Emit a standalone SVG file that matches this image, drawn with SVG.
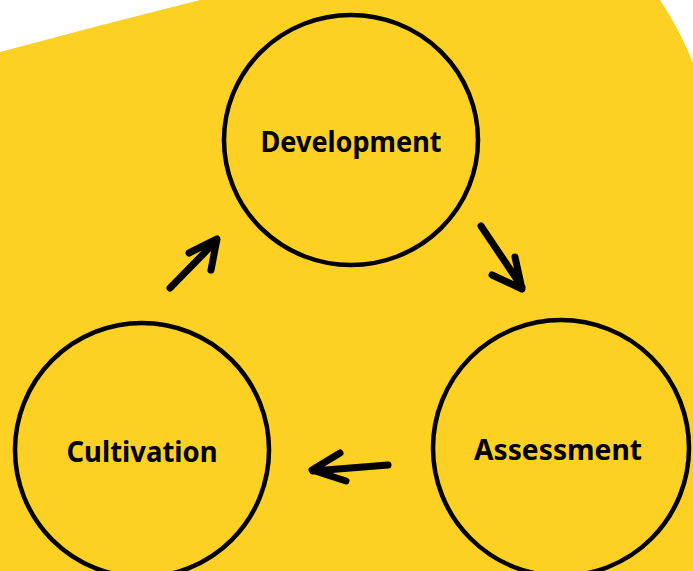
<svg xmlns="http://www.w3.org/2000/svg" width="693" height="571" viewBox="0 0 693 571">
<style>
.node{fill:none;stroke:#000;stroke-width:4.5}
.lbl{font-family:"Noto Sans","Open Sans",sans-serif;font-weight:700;font-size:29px;fill:#000;text-anchor:middle}
.arr{fill:none;stroke:#000;stroke-width:7;stroke-linecap:round;stroke-linejoin:round}
</style>
<rect width="693" height="571" fill="#fff"/>
<path d="M0,52 Q100,25 200,0 L660,0 Q680,30 693,63 L693,571 L0,571 Z" fill="#FDD024"/>
<g id="development">
<ellipse class="node" cx="351" cy="140" rx="127" ry="125"/>
<text class="lbl" x="351" y="152" textLength="181" lengthAdjust="spacingAndGlyphs">Development</text>
</g>
<g id="assessment">
<circle class="node" cx="561" cy="448" r="128"/>
<text class="lbl" x="558" y="460" textLength="168" lengthAdjust="spacingAndGlyphs">Assessment</text>
</g>
<g id="cultivation">
<circle class="node" cx="142" cy="450" r="127"/>
<text class="lbl" x="142" y="462" textLength="151" lengthAdjust="spacingAndGlyphs">Cultivation</text>
</g>
<g id="connectors">
<path class="arr" d="M170,288 L215,242 M189,253 L217,239 L211,270"/>
<path class="arr" d="M481,226 L522,287 M492,275 L522,289 L515,257"/>
<path class="arr" d="M388,465 L313,471 M340,453 L312,470 L346,481"/>
</g>
</svg>
